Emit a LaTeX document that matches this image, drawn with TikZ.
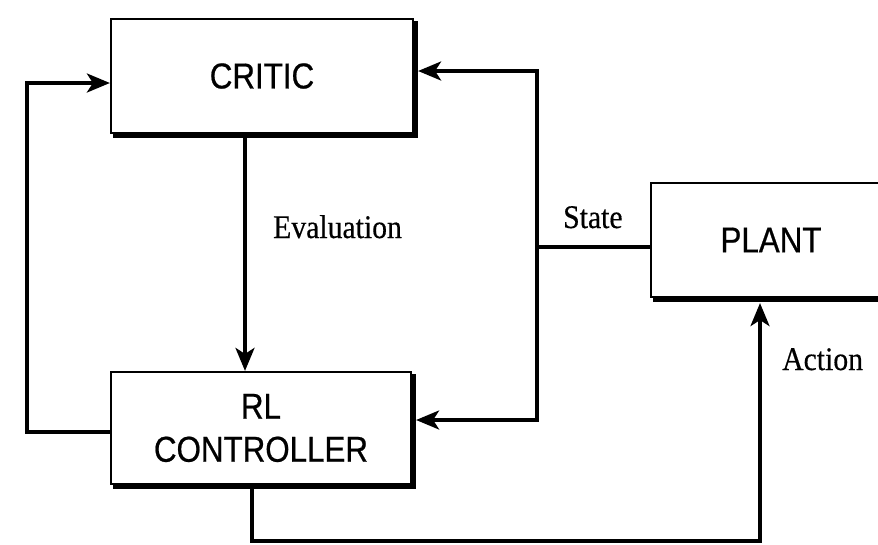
\documentclass[tikz,border=0pt]{standalone}
\usepackage{fontspec}
\newfontfamily\boxfont[FakeStretch=0.87,FakeBold=0.6]{Liberation Sans}
\newfontfamily\lblfont[FakeStretch=0.9,FakeBold=0.4]{Liberation Serif}
\usetikzlibrary{arrows.meta,calc}
\tikzset{
  blockbox/.style={draw, line width=2.2pt, rectangle, inner sep=0pt,
    font=\boxfont\fontsize{36}{43}\selectfont, align=center},
  shadowline/.style={line width=4pt, line cap=rect},
  conn/.style={line width=3.4pt, line join=miter},
  arr/.style={conn, -{Stealth[length=23pt, width=19pt, inset=6pt]}},
  lbl/.style={inner sep=0pt, font=\lblfont\fontsize{33}{40}\selectfont}
}
\begin{document}
\begin{tikzpicture}[x=1pt,y=-1pt]
\useasboundingbox (0,0) rectangle (878,544);
\clip (0,0) rectangle (878,544);
% blocks
\node[blockbox, minimum width=302pt, minimum height=114pt] (crit) at (262,76) {CRITIC};
\node[blockbox, minimum width=300pt, minimum height=112pt] (rl) at (261,428) {RL\\CONTROLLER};
\node[blockbox, minimum width=240pt, minimum height=114pt] (plant) at (771,240) {PLANT};
% shadows
\foreach \b in {crit,rl,plant}{
  \draw[shadowline] ($(\b.north east)+(1.8,5)$) -- ($(\b.south east)+(1.8,1.8)$) -- ($(\b.south west)+(5,1.8)$);
}
% coordinates
\coordinate (evx) at (245,0);
\coordinate (lx) at (27,0);
\coordinate (sx) at (537,0);
\coordinate (j) at (537,247);
\coordinate (acx) at (760,0);
\coordinate (bot) at (0,541);
\coordinate (ctop) at (0,71);
\coordinate (rlin) at (0,420);
\coordinate (clft) at (0,83);
\coordinate (rlout) at (0,432);
\coordinate (rlbx) at (252,0);
% Evaluation
\draw[arr] ($(crit.south -| evx)+(0,3)$) -- (rl.north -| evx);
% left loop
\draw[arr] (rl.west |- rlout) -- (lx |- rlout) -- (lx |- clft) -- (crit.west |- clft);
% state
\draw[conn] (plant.west |- j) -- (j);
\draw[arr] (j) -- (sx |- ctop) -- ($(crit.east |- ctop)+(4,0)$);
\draw[arr] (j) -- (sx |- rlin) -- ($(rl.east |- rlin)+(4,0)$);
% action
\draw[arr] ($(rl.south -| rlbx)+(0,3)$) -- (rlbx |- bot) -- (acx |- bot) -- ($(plant.south -| acx)+(0,5)$);
% labels
\node[lbl, anchor=base west] (ev) at (273,238) {Evaluation};
\node[lbl, anchor=base west] (st) at (563,228) {State};
\node[lbl, anchor=base west] (ac) at (782,370) {Action};
\end{tikzpicture}
\end{document}
